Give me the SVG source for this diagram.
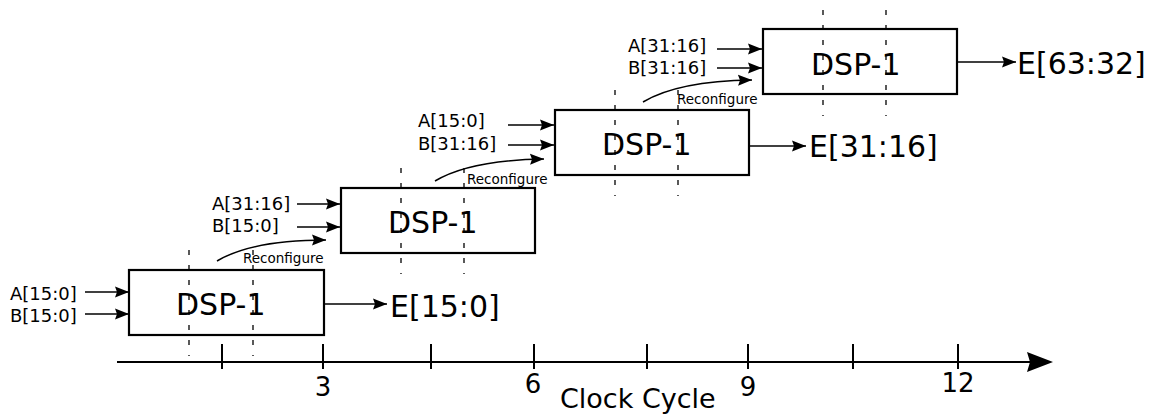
<svg xmlns="http://www.w3.org/2000/svg" width="1151" height="415" viewBox="0 0 1151 415">
<style>
text{font-family:"DejaVu Sans","Verdana",sans-serif;fill:#000}
.box{fill:#fff;stroke:#000;stroke-width:2.2}
.lbl{font-size:30px}
.in{font-size:18px}
.out{font-size:30px}
.rc{font-size:13.5px}
.tk{font-size:26px;text-anchor:middle}
.ln{stroke:#000;stroke-width:1.5;fill:none}
.dash{stroke:#000;stroke-width:1.3;stroke-dasharray:5 10;fill:none}
.tick{stroke:#000;stroke-width:2}
</style>
<defs>
<marker id="ah" markerUnits="userSpaceOnUse" markerWidth="16" markerHeight="12" refX="14" refY="6" orient="auto">
<path d="M0,0.5 L14,6 L0,11.5 L2,6 Z" fill="#000"/>
</marker>
</defs>

<g id="axis">
<line class="tick" x1="117" y1="362" x2="1030" y2="362"/>
<path d="M1027,352 L1053,362 L1027,372 L1030,362 Z" fill="#000"/>
<line class="tick" x1="222" y1="344" x2="222" y2="369"/>
<line class="tick" x1="323" y1="344" x2="323" y2="369"/>
<line class="tick" x1="431" y1="344" x2="431" y2="369"/>
<line class="tick" x1="534" y1="344" x2="534" y2="369"/>
<line class="tick" x1="647" y1="344" x2="647" y2="369"/>
<line class="tick" x1="748" y1="344" x2="748" y2="369"/>
<line class="tick" x1="853" y1="344" x2="853" y2="369"/>
<line class="tick" x1="958" y1="344" x2="958" y2="369"/>
<text class="tk" x="323" y="396">3</text>
<text class="tk" x="533" y="393">6</text>
<text class="tk" x="748" y="396">9</text>
<text class="tk" x="958" y="392">12</text>
<text x="560" y="408" font-size="27">Clock Cycle</text>
</g>

<g id="dsp1">
<rect class="box" x="129" y="270" width="195" height="65"/>
<text class="lbl" x="176" y="315">DSP-1</text>
<line class="dash" x1="189" y1="250" x2="189" y2="356"/>
<line class="dash" x1="253" y1="250" x2="253" y2="356"/>
<text class="in" x="10" y="300">A[15:0]</text>
<text class="in" x="10" y="322">B[15:0]</text>
<text class="out" x="390" y="317">E[15:0]</text>
</g>

<g id="dsp2">
<rect class="box" x="341" y="188" width="194" height="65"/>
<text class="lbl" x="388" y="233">DSP-1</text>
<line class="dash" x1="401" y1="168" x2="401" y2="274"/>
<line class="dash" x1="464" y1="168" x2="464" y2="274"/>
<text class="in" x="212" y="210">A[31:16]</text>
<text class="in" x="212" y="232">B[15:0]</text>
<text class="rc" x="243" y="263">Reconfigure</text>
</g>

<g id="dsp3">
<rect class="box" x="555" y="110" width="194" height="65"/>
<text class="lbl" x="602" y="155">DSP-1</text>
<line class="dash" x1="615" y1="90" x2="615" y2="196"/>
<line class="dash" x1="678" y1="90" x2="678" y2="196"/>
<text class="in" x="418" y="127">A[15:0]</text>
<text class="in" x="418" y="150">B[31:16]</text>
<text class="rc" x="467" y="184">Reconfigure</text>
<text class="out" x="809" y="157">E[31:16]</text>
</g>

<g id="dsp4">
<rect class="box" x="763" y="29" width="194" height="65"/>
<text class="lbl" x="811" y="75">DSP-1</text>
<line class="dash" x1="823" y1="10" x2="823" y2="116"/>
<line class="dash" x1="886" y1="10" x2="886" y2="116"/>
<text class="in" x="628" y="52">A[31:16]</text>
<text class="in" x="628" y="74">B[31:16]</text>
<text class="rc" x="677" y="104">Reconfigure</text>
<text class="out" x="1017" y="74">E[63:32]</text>
</g>

<g id="connectors">
<line class="ln" x1="85" y1="292" x2="129" y2="292" marker-end="url(#ah)"/>
<line class="ln" x1="85" y1="314" x2="129" y2="314" marker-end="url(#ah)"/>
<line class="ln" x1="324" y1="304" x2="387" y2="304" marker-end="url(#ah)"/>
<line class="ln" x1="297" y1="204" x2="340" y2="204" marker-end="url(#ah)"/>
<line class="ln" x1="297" y1="227" x2="340" y2="227" marker-end="url(#ah)"/>
<path class="ln" d="M217,261 Q252,240 326,240" marker-end="url(#ah)"/>
<line class="ln" x1="508" y1="125" x2="554" y2="125" marker-end="url(#ah)"/>
<line class="ln" x1="508" y1="145" x2="554" y2="145" marker-end="url(#ah)"/>
<line class="ln" x1="749" y1="146" x2="806" y2="146" marker-end="url(#ah)"/>
<path class="ln" d="M435,181 Q470,160 544,159" marker-end="url(#ah)"/>
<line class="ln" x1="717" y1="49" x2="762" y2="49" marker-end="url(#ah)"/>
<line class="ln" x1="717" y1="68" x2="762" y2="68" marker-end="url(#ah)"/>
<line class="ln" x1="957" y1="62" x2="1016" y2="62" marker-end="url(#ah)"/>
<path class="ln" d="M643,102 Q678,81 752,80" marker-end="url(#ah)"/>
</g>
</svg>
